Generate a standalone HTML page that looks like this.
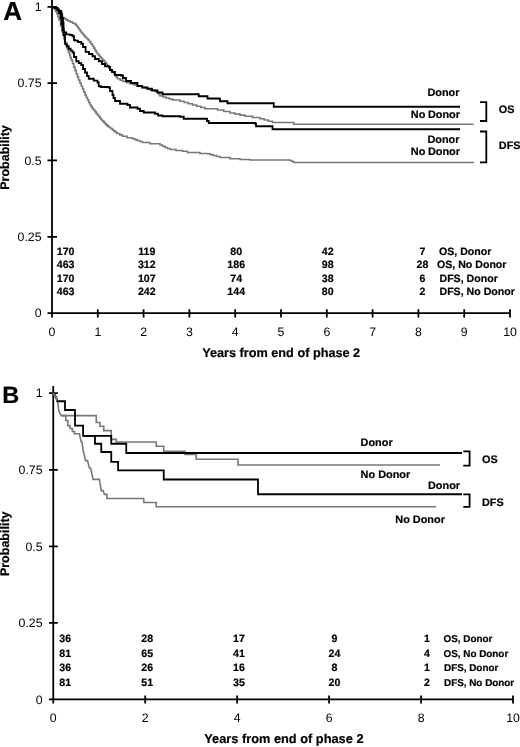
<!DOCTYPE html>
<html lang="en"><head><meta charset="utf-8"><title>Figure</title>
<style>
html,body{margin:0;padding:0;background:#fff;}
body{width:520px;height:747px;overflow:hidden;}
svg{display:block;}
text{text-rendering:geometricPrecision;font-family:"Liberation Sans",Arial,Helvetica,sans-serif;fill:#000;}
.b{font-weight:bold;}
.b,.n,.l,.lb{stroke:#000;stroke-width:0.2px;}
.ws{word-spacing:-0.4px;}
.t{font-size:12.3px;}
.n{font-size:10.6px;font-weight:bold;}
.l{font-size:10.9px;font-weight:bold;}
.lb{font-size:9.9px;font-weight:bold;}
.ax{stroke:#000;stroke-width:1.8;fill:none;}
.k{stroke:#000;stroke-width:1.8;fill:none;stroke-linejoin:miter;}
.g{stroke:#787878;stroke-width:1.6;fill:none;stroke-linejoin:miter;}
</style></head><body>
<svg width="520" height="747" viewBox="0 0 520 747">
<rect width="520" height="747" fill="#fff"/>

<g id="panelA">
<text class="b" x="3.2" y="20.3" font-size="26">A</text>
<path class="ax" d="M52,0 V317.5 M47.5,313.1 H510"/>
<path class="ax" d="M47.5,6.8 H57 M47.5,83.1 H57 M47.5,160.4 H57 M47.5,236.8 H57 M97.80,309.3 V317.5 M143.60,309.3 V317.5 M189.40,309.3 V317.5 M235.20,309.3 V317.5 M281.00,309.3 V317.5 M326.80,309.3 V317.5 M372.60,309.3 V317.5 M418.40,309.3 V317.5 M464.20,309.3 V317.5 M510.00,309.3 V317.5 "/>
<text class="t" x="41.5" y="11.0" text-anchor="end">1</text>
<text class="t" x="41.5" y="87.3" text-anchor="end">0.75</text>
<text class="t" x="41.5" y="164.6" text-anchor="end">0.5</text>
<text class="t" x="41.5" y="241.0" text-anchor="end">0.25</text>
<text class="t" x="41.5" y="317.3" text-anchor="end">0</text>
<text class="t" x="52.00" y="335.6" text-anchor="middle">0</text>
<text class="t" x="97.80" y="335.6" text-anchor="middle">1</text>
<text class="t" x="143.60" y="335.6" text-anchor="middle">2</text>
<text class="t" x="189.40" y="335.6" text-anchor="middle">3</text>
<text class="t" x="235.20" y="335.6" text-anchor="middle">4</text>
<text class="t" x="281.00" y="335.6" text-anchor="middle">5</text>
<text class="t" x="326.80" y="335.6" text-anchor="middle">6</text>
<text class="t" x="372.60" y="335.6" text-anchor="middle">7</text>
<text class="t" x="418.40" y="335.6" text-anchor="middle">8</text>
<text class="t" x="464.20" y="335.6" text-anchor="middle">9</text>
<text class="t" x="510.00" y="335.6" text-anchor="middle">10</text>
<text class="b" font-size="12.7" x="202.2" y="357">Years from end of phase 2</text>
<text class="b" font-size="12.5" transform="translate(9.4,157.5) rotate(-90)" text-anchor="middle">Probability</text>
<polyline class="g" points="52.5,7 53.75,7.0 53.75,8.5 55.0,8.5 55.0,10.0 56.0,10.0 56.0,12.0 57.0,12.0 57.0,14.0 58.0,14.0 58.0,17.0 59.0,17.0 59.0,20.0 60.5,20.0 60.5,26.0 62.0,26.0 62.0,32.0 62.88,32.0 62.88,35.25 63.75,35.25 63.75,38.5 64.67,38.5 64.67,41.75 65.6,41.75 65.6,45.0 66.55,45.0 66.55,47.5 67.5,47.5 67.5,50.0 68.5,50.0 68.5,52.5 69.5,52.5 69.5,55.0 70.38,55.0 70.38,57.5 71.25,57.5 71.25,60.0 72.5,60.0 72.5,63.5 73.75,63.5 73.75,67.0 75.0,67.0 75.0,70.38 76.25,70.38 76.25,73.75 77.38,73.75 77.38,76.88 78.5,76.88 78.5,80.0 79.88,80.0 79.88,83.0 81.25,83.0 81.25,86.0 82.5,86.0 82.5,89.0 83.75,89.0 83.75,92.0 85.0,92.0 85.0,95.0 86.25,95.0 86.25,97.5 87.5,97.5 87.5,100.0 88.75,100.0 88.75,102.5 90.0,102.5 90.0,105.0 91.17,105.0 91.17,106.67 92.33,106.67 92.33,108.33 93.5,108.33 93.5,110.0 94.83,110.0 94.83,111.67 96.17,111.67 96.17,113.33 97.5,113.33 97.5,115.0 98.67,115.0 98.67,116.5 99.83,116.5 99.83,118.0 101.0,118.0 101.0,119.5 102.33,119.5 102.33,120.92 103.67,120.92 103.67,122.33 105.0,122.33 105.0,123.75 106.17,123.75 106.17,124.83 107.33,124.83 107.33,125.92 108.5,125.92 108.5,127.0 110.5,127.0 110.5,128.5 112.5,128.5 112.5,130.0 114.0,130.0 114.0,131.17 115.5,131.17 115.5,132.33 117.0,132.33 117.0,133.5 119.75,133.5 119.75,134.88 122.5,134.88 122.5,136.25 127.0,136.25 127.0,137.75 132.5,137.75 132.5,138.75 134.75,138.75 134.75,139.62 137.0,139.62 137.0,140.5 139.75,140.5 139.75,141.5 142.5,141.5 142.5,142.5 150.0,142.5 150.0,143.75 160.0,143.75 160.0,145.0 162.5,145.0 162.5,146.25 165.0,146.25 165.0,147.5 167.5,147.5 167.5,148.5 170.0,148.5 170.0,149.5 176.0,149.5 176.0,150.5 182.5,150.5 182.5,151.25 187.5,151.25 187.5,152.5 200.0,152.5 200.0,153.5 207.5,153.5 207.5,153.75 210.25,153.75 210.25,154.62 213.0,154.62 213.0,155.5 216.5,155.5 216.5,156.5 220.0,156.5 220.0,157.5 230.0,157.5 230.0,158.75 240.0,158.75 240.0,159.5 250.0,159.5 250.0,160.0 290.0,160.0 290.0,160.5 291.88,160.5 291.88,161.5 293.75,161.5 293.75,162.5 474.0,162.5 474.0,162.5"/>
<polyline class="g" points="52.5,7 54.0,7.0 54.0,8.33 55.5,8.33 55.5,9.67 57.0,9.67 57.0,11.0 58.38,11.0 58.38,12.62 59.75,12.62 59.75,14.25 61.12,14.25 61.12,15.88 62.5,15.88 62.5,17.5 64.33,17.5 64.33,18.67 66.17,18.67 66.17,19.83 68.0,19.83 68.0,21.0 70.33,21.0 70.33,22.13 72.67,22.13 72.67,23.27 75.0,23.27 75.0,24.4 76.5,24.4 76.5,26.2 78.0,26.2 78.0,28.0 79.08,28.0 79.08,29.5 80.17,29.5 80.17,31.0 81.25,31.0 81.25,32.5 82.5,32.5 82.5,34.0 83.75,34.0 83.75,35.5 85.0,35.5 85.0,37.0 86.5,37.0 86.5,38.5 88.0,38.5 88.0,40.0 89.5,40.0 89.5,42.0 91.0,42.0 91.0,44.0 92.5,44.0 92.5,46.0 93.75,46.0 93.75,48.17 95.0,48.17 95.0,50.33 96.25,50.33 96.25,52.5 97.5,52.5 97.5,54.0 98.75,54.0 98.75,55.5 100.0,55.5 100.0,57.0 101.25,57.0 101.25,58.38 102.5,58.38 102.5,59.75 103.75,59.75 103.75,61.12 105.0,61.12 105.0,62.5 106.33,62.5 106.33,64.33 107.67,64.33 107.67,66.17 109.0,66.17 109.0,68.0 110.19,68.0 110.19,69.44 111.38,69.44 111.38,70.88 112.56,70.88 112.56,72.31 113.75,72.31 113.75,73.75 115.0,73.75 115.0,75.42 116.25,75.42 116.25,77.08 117.5,77.08 117.5,78.75 120.25,78.75 120.25,80.12 123.0,80.12 123.0,81.5 126.5,81.5 126.5,82.62 130.0,82.62 130.0,83.75 133.5,83.75 133.5,84.88 137.0,84.88 137.0,86.0 142.5,86.0 142.5,87.5 146.25,87.5 146.25,88.75 150.0,88.75 150.0,90.0 155.0,90.0 155.0,91.25 156.5,91.25 156.5,92.12 158.0,92.12 158.0,93.0 159.0,93.0 159.0,94.5 160.0,94.5 160.0,96.0 163.0,96.0 163.0,97.0 166.0,97.0 166.0,98.0 169.25,98.0 169.25,99.0 172.5,99.0 172.5,100.0 180.0,100.0 180.0,101.25 184.17,101.25 184.17,102.5 188.33,102.5 188.33,103.75 192.5,103.75 192.5,105.0 196.67,105.0 196.67,106.25 200.83,106.25 200.83,107.5 205.0,107.5 205.0,108.75 217.5,108.75 217.5,110.0 223.75,110.0 223.75,111.5 230.0,111.5 230.0,113.0 235.0,113.0 235.0,114.08 240.0,114.08 240.0,115.17 245.0,115.17 245.0,116.25 252.5,116.25 252.5,117.5 260.0,117.5 260.0,118.75 264.17,118.75 264.17,120.0 268.33,120.0 268.33,121.25 272.5,121.25 272.5,122.5 292.5,122.5 292.5,122.5 293.75,122.5 293.75,124.25 473.5,124.25 473.5,124.25"/>
<polyline class="k" points="52.5,7 55.0,7.0 55.0,8.0 57.5,8.0 57.5,10.0 59.0,10.0 59.0,13.0 60.5,13.0 60.5,18.0 61.5,18.0 61.5,24.0 62.5,24.0 62.5,30.0 63.75,30.0 63.75,35.0 65.0,35.0 65.0,43.75 66.88,43.75 66.88,46.25 68.75,46.25 68.75,48.75 70.62,48.75 70.62,50.62 72.5,50.62 72.5,52.5 74.0,52.5 74.0,57.0 76.25,57.0 76.25,61.25 78.75,61.25 78.75,63.12 81.25,63.12 81.25,65.0 83.0,65.0 83.0,69.0 85.0,69.0 85.0,72.5 87.0,72.5 87.0,76.0 88.75,76.0 88.75,78.75 93.75,78.75 93.75,80.6 97.5,80.6 97.5,82.5 98.75,82.5 98.75,86.25 101.0,86.25 101.0,87.0 108.75,87.0 108.75,87.5 110.0,87.5 110.0,91.0 112.5,91.0 112.5,95.0 113.5,95.0 113.5,98.0 115.0,98.0 115.0,101.0 120.0,101.0 120.0,103.75 127.5,103.75 127.5,105.0 130.0,105.0 130.0,107.5 137.5,107.5 137.5,108.75 140.0,108.75 140.0,111.0 143.75,111.0 143.75,112.5 155.0,112.5 155.0,113.75 158.0,113.75 158.0,115.5 162.5,115.5 162.5,116.25 180.0,116.25 180.0,116.75 183.75,116.75 183.75,118.75 206.0,118.75 206.0,118.75 207.0,118.75 207.0,121.0 208.75,121.0 208.75,123.0 255.0,123.0 255.0,123.5 256.0,123.5 256.0,126.25 271.0,126.25 271.0,126.25 272.5,126.25 272.5,129.25 460.0,129.25 460.0,129.25"/>
<polyline class="k" points="52.5,7 55.0,7.0 55.0,8.0 57.5,8.0 57.5,9.4 59.0,9.4 59.0,11.0 61.25,11.0 61.25,13.75 62.0,13.75 62.0,18.0 63.0,18.0 63.0,22.5 63.5,22.5 63.5,28.0 63.75,28.0 63.75,32.5 66.25,32.5 66.25,34.4 70.0,34.4 70.0,35.0 72.5,35.0 72.5,36.25 74.0,36.25 74.0,40.0 75.0,40.0 75.0,40.6 78.0,40.6 78.0,42.0 81.25,42.0 81.25,43.75 83.0,43.75 83.0,47.0 85.6,47.0 85.6,51.9 89.0,51.9 89.0,54.0 92.5,54.0 92.5,56.25 95.0,56.25 95.0,59.0 98.75,59.0 98.75,61.25 102.0,61.25 102.0,64.0 105.0,64.0 105.0,66.25 108.75,66.25 108.75,66.9 110.0,66.9 110.0,70.0 112.0,70.0 112.0,72.0 115.0,72.0 115.0,75.0 121.0,75.0 121.0,75.5 123.0,75.5 123.0,78.0 126.0,78.0 126.0,81.0 131.0,81.0 131.0,83.0 137.5,83.0 137.5,86.0 142.0,86.0 142.0,87.5 147.5,87.5 147.5,88.75 152.0,88.75 152.0,90.5 157.5,90.5 157.5,92.5 162.5,92.5 162.5,94.25 197.5,94.25 197.5,94.25 198.75,94.25 198.75,96.25 206.0,96.25 206.0,96.25 207.5,96.25 207.5,98.5 218.75,98.5 218.75,98.75 220.0,98.75 220.0,101.25 226.0,101.25 226.0,101.25 227.5,101.25 227.5,103.25 272.5,103.25 272.5,103.25 273.75,103.25 273.75,106.75 460.0,106.75 460.0,106.75"/>
<text class="l" x="459.5" y="96.3" text-anchor="end">Donor</text>
<text class="l ws" x="460" y="117.6" text-anchor="end">No Donor</text>
<text class="l" x="459.5" y="143.1" text-anchor="end">Donor</text>
<text class="l ws" x="460" y="155.1" text-anchor="end">No Donor</text>
<text class="l" x="498.8" y="113.1">OS</text>
<text class="l" x="498.8" y="148.8">DFS</text>
<path class="ax" d="M480,102.2 H486.3 V121 H480 M480,131.5 H486.3 V162.3 H480"/>
<text class="n" x="65.6" y="255.2" text-anchor="middle">170</text>
<text class="n" x="65.6" y="268.3" text-anchor="middle">463</text>
<text class="n" x="65.6" y="281.5" text-anchor="middle">170</text>
<text class="n" x="65.6" y="294.7" text-anchor="middle">463</text>
<text class="n" x="146.8" y="255.2" text-anchor="middle">119</text>
<text class="n" x="146.8" y="268.3" text-anchor="middle">312</text>
<text class="n" x="146.8" y="281.5" text-anchor="middle">107</text>
<text class="n" x="146.8" y="294.7" text-anchor="middle">242</text>
<text class="n" x="236.2" y="255.2" text-anchor="middle">80</text>
<text class="n" x="236.2" y="268.3" text-anchor="middle">186</text>
<text class="n" x="236.2" y="281.5" text-anchor="middle">74</text>
<text class="n" x="236.2" y="294.7" text-anchor="middle">144</text>
<text class="n" x="327.7" y="255.2" text-anchor="middle">42</text>
<text class="n" x="327.7" y="268.3" text-anchor="middle">98</text>
<text class="n" x="327.7" y="281.5" text-anchor="middle">38</text>
<text class="n" x="327.7" y="294.7" text-anchor="middle">80</text>
<text class="n" x="422.5" y="255.2" text-anchor="middle">7</text>
<text class="n" x="422.5" y="268.3" text-anchor="middle">28</text>
<text class="n" x="422.5" y="281.5" text-anchor="middle">6</text>
<text class="n" x="422.5" y="294.7" text-anchor="middle">2</text>
<text class="n" x="439" y="255.2">OS, Donor</text>
<text class="n" x="437" y="268.3">OS, No Donor</text>
<text class="n" x="439.5" y="281.5">DFS, Donor</text>
<text class="n" x="439.5" y="294.7">DFS, No Donor</text>
</g>
<g id="panelB">
<text class="b" x="2.2" y="403" font-size="23.5">B</text>
<path class="ax" d="M53.25,386 V703.5 M49,699.4 H513"/>
<path class="ax" d="M49,393.2 H57.8 M49,469.8 H57.8 M49,546.3 H57.8 M49,622.8 H57.8 M145.20,695.5 V703.5 M237.15,695.5 V703.5 M329.10,695.5 V703.5 M421.05,695.5 V703.5 M513.00,695.5 V703.5 "/>
<text class="t" x="42.5" y="397.4" text-anchor="end">1</text>
<text class="t" x="42.5" y="474.0" text-anchor="end">0.75</text>
<text class="t" x="42.5" y="550.5" text-anchor="end">0.5</text>
<text class="t" x="42.5" y="627.0" text-anchor="end">0.25</text>
<text class="t" x="42.5" y="703.6" text-anchor="end">0</text>
<text class="t" x="53.25" y="722.3" text-anchor="middle">0</text>
<text class="t" x="145.20" y="722.3" text-anchor="middle">2</text>
<text class="t" x="237.15" y="722.3" text-anchor="middle">4</text>
<text class="t" x="329.10" y="722.3" text-anchor="middle">6</text>
<text class="t" x="421.05" y="722.3" text-anchor="middle">8</text>
<text class="t" x="513.00" y="722.3" text-anchor="middle">10</text>
<text class="b" font-size="12.8" x="204.2" y="743.3">Years from end of phase 2</text>
<text class="b" font-size="12.5" transform="translate(9.2,543.8) rotate(-90)" text-anchor="middle">Probability</text>
<path class="g" d="M61.25,415.6 H65.8 V420.5 H67.8 V425.6 H70 V428.5 H72.3 V431.5 H74.5 V433.75 H79.4 L80.3,438 L81.3,442 H82 L83.1,450 L85.6,460.6 H87.5 L89.4,468 H90.6 L93.1,479.4 H99.4 L101.25,490.6 H103.1 L104.4,494.4 H106.9 V498.5 H143.75 V502.5 H156.25 V506.75 H436.25"/>
<path class="g" d="M53.25,393 L55.6,397 H56.5 L56.9,400.6 L58,403.75 L58.75,411 L61.25,415.6 H96.25 V422.5 H100 V426.25 H103.75 V430.6 H111.25 V439.4 H116.25 V442 H156.25 V446.25 H163.75 V451.25 H185 V454.5 H196.25 V459.25 H238 V465 H440"/>
<path class="k" d="M83.1,435.9 H95 V443.75 H101.25 V452 H111.25 V461.9 H118.1 V470.4 H163.75 V479.5 H258 V494.25 H462"/>
<path class="k" d="M53.25,393 L55,395 L57.5,401.25 H65 V410 H75 V425.6 H83.1 V435.9 H111.25 V443.75 H126.25 V453 H462"/>
<path class="g" d="M53.25,393 L55.6,397 H56.5 L56.9,400.6"/>
<text class="l" x="360.6" y="445.7">Donor</text>
<text class="l" x="360.6" y="478.2">No Donor</text>
<text class="l" x="428" y="489.3">Donor</text>
<text class="l" x="395.3" y="523">No Donor</text>
<text class="l" x="482" y="463">OS</text>
<text class="l" x="482" y="505.8">DFS</text>
<path class="ax" d="M463.3,451.4 H469.6 V465.6 H463.3 M463.3,494.4 H469.6 V506.8 H463.3"/>
<text class="n" x="65.2" y="642.2" text-anchor="middle">36</text>
<text class="n" x="65.2" y="656.8" text-anchor="middle">81</text>
<text class="n" x="65.2" y="671.2" text-anchor="middle">36</text>
<text class="n" x="65.2" y="685.5" text-anchor="middle">81</text>
<text class="n" x="147.2" y="642.2" text-anchor="middle">28</text>
<text class="n" x="147.2" y="656.8" text-anchor="middle">65</text>
<text class="n" x="147.2" y="671.2" text-anchor="middle">26</text>
<text class="n" x="147.2" y="685.5" text-anchor="middle">51</text>
<text class="n" x="239" y="642.2" text-anchor="middle">17</text>
<text class="n" x="239" y="656.8" text-anchor="middle">41</text>
<text class="n" x="239" y="671.2" text-anchor="middle">16</text>
<text class="n" x="239" y="685.5" text-anchor="middle">35</text>
<text class="n" x="334.5" y="642.2" text-anchor="middle">9</text>
<text class="n" x="334.5" y="656.8" text-anchor="middle">24</text>
<text class="n" x="334.5" y="671.2" text-anchor="middle">8</text>
<text class="n" x="334.5" y="685.5" text-anchor="middle">20</text>
<text class="n" x="427" y="642.2" text-anchor="middle">1</text>
<text class="n" x="427" y="656.8" text-anchor="middle">4</text>
<text class="n" x="427" y="671.2" text-anchor="middle">1</text>
<text class="n" x="427" y="685.5" text-anchor="middle">2</text>
<text class="lb" x="443.5" y="642.2">OS, Donor</text>
<text class="lb" x="443.5" y="656.8">OS, No Donor</text>
<text class="lb" x="444" y="671.2">DFS, Donor</text>
<text class="lb" x="444" y="685.5">DFS, No Donor</text>
</g>
</svg></body></html>
